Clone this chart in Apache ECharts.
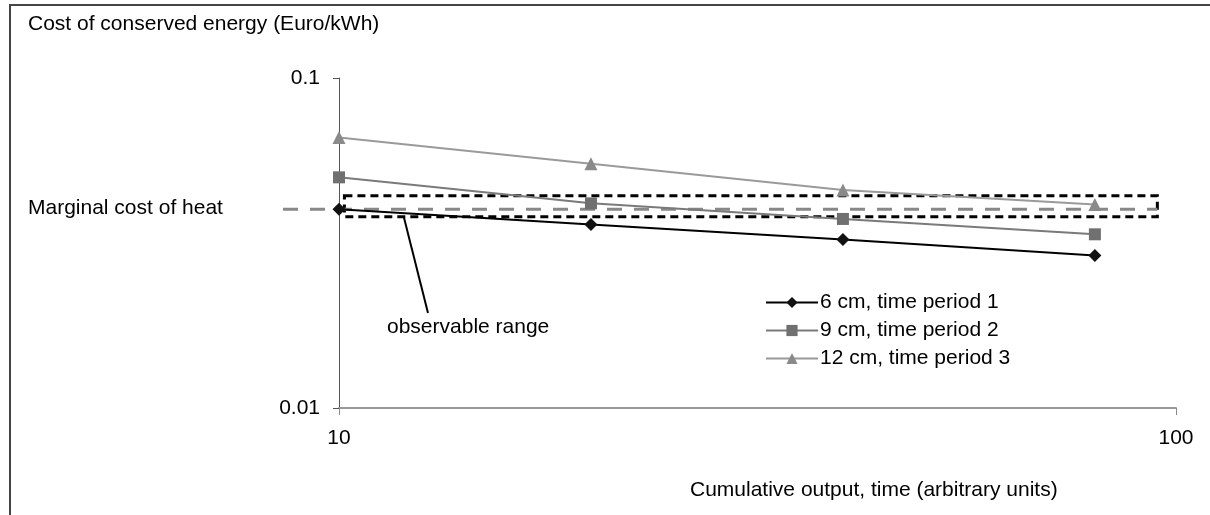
<!DOCTYPE html>
<html>
<head>
<meta charset="utf-8">
<script src="https://cdn.jsdelivr.net/npm/echarts@6/dist/echarts.min.js"></script>
<style>
  html, body { margin: 0; padding: 0; background: #fff; }
  #chart { width: 1210px; height: 515px; }
</style>
</head>
<body>
<div id="chart"></div>
<script>
// cumulative output (x) and cost of conserved energy (y)
const outputs = [10, 20, 40, 80];
const cost6cm = [0.040, 0.036, 0.0324, 0.029];
const cost9cm = [0.050, 0.0417, 0.0374, 0.0336];
const cost12cm = [0.066, 0.055, 0.0458, 0.0414];
const seriesNames = ['6 cm, time period 1', '9 cm, time period 2', '12 cm, time period 3'];
const marginalCost = 0.04;
// observable range box: [x0, y0] - [x1, y1]
const rangeBox = [[10.15, 0.044], [95, 0.038]];

const font = 'Liberation Sans, Arial, sans-serif';
const fs = 21;

function pairs(ys) {
  return outputs.map((x, i) => [x, ys[i]]);
}

const chart = echarts.init(document.getElementById('chart'));

const option = {
  animation: false,
  textStyle: { fontFamily: font, color: '#000' },
  grid: { left: 339, right: 34, top: 78, bottom: 107 },
  legend: {
    orient: 'vertical',
    left: 760,
    top: 287,
    itemWidth: 52,
    itemHeight: 14,
    itemGap: 7,
    textStyle: { fontSize: fs, fontFamily: font, color: '#000', padding: [0, 0, 0, -3] },
    data: seriesNames
  },
  xAxis: {
    type: 'log',
    logBase: 10,
    min: 10,
    max: 100,
    splitLine: { show: false },
    minorTick: { show: false },
    axisLine: { lineStyle: { color: '#999', width: 2 } },
    axisTick: { show: true, length: 7, lineStyle: { color: '#888' } },
    axisLabel: { fontSize: fs, fontFamily: font, color: '#000', margin: 20 }
  },
  yAxis: {
    type: 'log',
    logBase: 10,
    min: 0.01,
    max: 0.1,
    splitLine: { show: false },
    minorTick: { show: false },
    axisLine: { show: true, lineStyle: { color: '#555', width: 1 } },
    axisTick: { show: true, length: 6, lineStyle: { color: '#555' } },
    axisLabel: {
      fontSize: fs, fontFamily: font, color: '#000', margin: 19,
      formatter: v => String(+v.toPrecision(3))
    }
  },
  series: [
    {
      name: seriesNames[0],
      type: 'line',
      data: pairs(cost6cm),
      symbol: 'diamond',
      symbolSize: 13,
      z: 5,
      lineStyle: { color: '#000', width: 2 },
      itemStyle: { color: '#111' },
      markArea: {
        silent: true,
        itemStyle: {
          color: 'rgba(0,0,0,0)',
          borderColor: '#000',
          borderWidth: 3,
          borderType: [8, 5]
        },
        data: [[{ coord: rangeBox[0] }, { coord: rangeBox[1] }]]
      }
    },
    {
      name: seriesNames[1],
      type: 'line',
      data: pairs(cost9cm),
      symbol: 'rect',
      symbolSize: 12,
      z: 4,
      lineStyle: { color: '#7a7a7a', width: 2 },
      itemStyle: { color: '#707070' }
    },
    {
      name: seriesNames[2],
      type: 'line',
      data: pairs(cost12cm),
      symbol: 'triangle',
      symbolSize: 13,
      z: 3,
      lineStyle: { color: '#9a9a9a', width: 2 },
      itemStyle: { color: '#8a8a8a' }
    }
  ]
};

chart.setOption(option);

// marginal cost line, annotation line and free texts placed via the grid's scales
const mcY = chart.convertToPixel({ gridIndex: 0 }, [10, marginalCost])[1];
const boxRight = chart.convertToPixel({ gridIndex: 0 }, [rangeBox[1][0], marginalCost])[0];
const arrowStart = chart.convertToPixel({ gridIndex: 0 }, [11.95, rangeBox[1][1]]);

chart.setOption({
  graphic: [
    {
      type: 'rect',
      shape: { x: 10, y: 5, width: 1400, height: 700 },
      style: { fill: 'none', stroke: '#444', lineWidth: 2 },
      silent: true
    },
    {
      type: 'line',
      shape: { x1: 283, y1: mcY, x2: boxRight, y2: mcY },
      style: { stroke: '#888', lineWidth: 3, lineDash: [15, 12] },
      z: 2
    },
    {
      type: 'line',
      shape: { x1: arrowStart[0], y1: arrowStart[1], x2: 428, y2: 313 },
      style: { stroke: '#000', lineWidth: 2 },
      z: 6
    },
    {
      type: 'text',
      left: 28, top: 14,
      style: { text: 'Cost of conserved energy (Euro/kWh)', font: fs + 'px ' + font, fill: '#000' }
    },
    {
      type: 'text',
      left: 28, top: mcY - 12,
      style: { text: 'Marginal cost of heat', font: fs + 'px ' + font, fill: '#000' }
    },
    {
      type: 'text',
      left: 387, top: 317,
      style: { text: 'observable range', font: fs + 'px ' + font, fill: '#000' }
    },
    {
      type: 'text',
      left: 690, top: 480,
      style: { text: 'Cumulative output, time (arbitrary units)', font: fs + 'px ' + font, fill: '#000' }
    }
  ]
});
</script>
</body>
</html>
